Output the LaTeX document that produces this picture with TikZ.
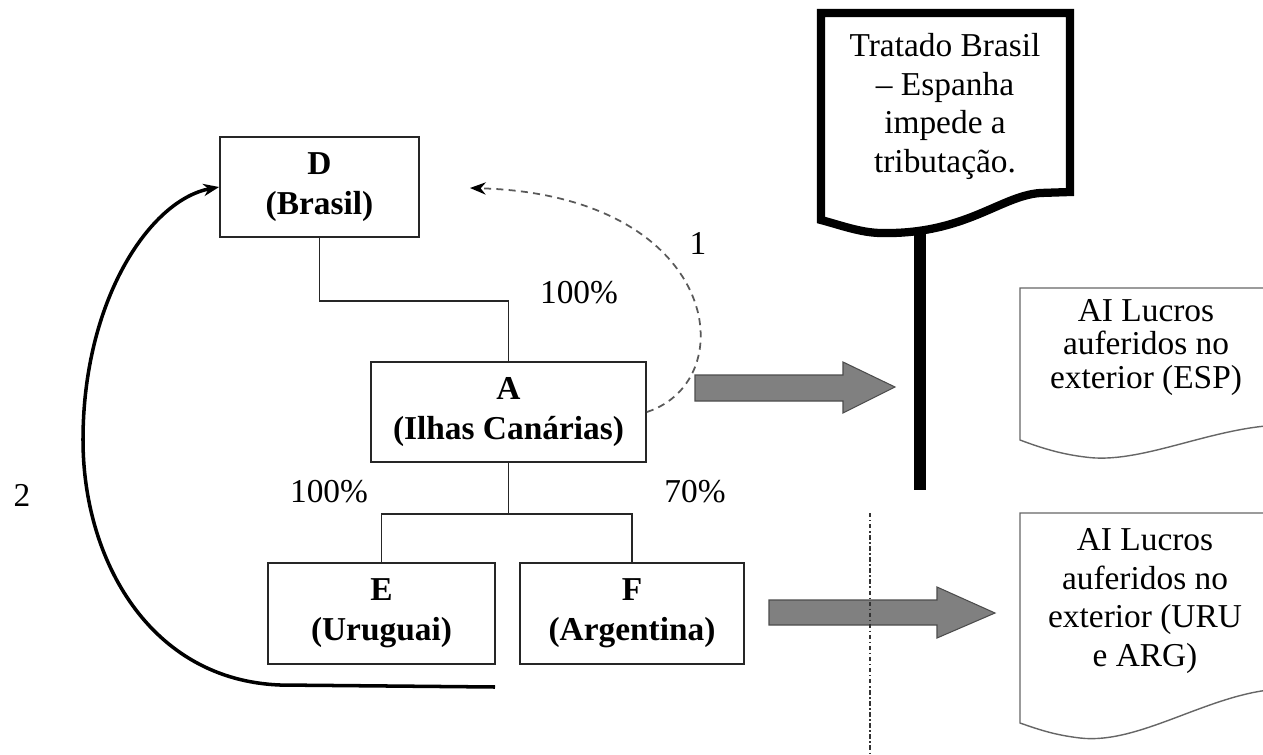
\documentclass[tikz,border=0pt]{standalone}
\usepackage{fontspec}
\setmainfont{Liberation Serif}
\usepackage{tikz}
\usetikzlibrary{arrows.meta}

\begin{document}
\begin{tikzpicture}[
  every node/.style={font=\fontsize{19}{22}\selectfont},
  caixa/.style={draw=black!85, line width=1pt, align=center, inner sep=0pt, font=\fontsize{19}{23}\selectfont\bfseries},
  ligacao/.style={draw=black!85, line width=1pt},
  setagrossa/.style={fill=black!50, draw=black!70, line width=0.6pt},
  documento/.style={draw=black!60, line width=0.8pt, fill=white}]

\useasboundingbox (0,0) rectangle (25.26,-15.1);
\clip (0,0) rectangle (25.26,-15.1);

\node[caixa, minimum width=3.98cm, minimum height=2cm] (D) at (6.39,-3.74) {D\\(Brasil)};
\node[caixa, minimum width=5.5cm, minimum height=2cm] (A) at (10.17,-8.24) {A\\(Ilhas Canárias)};
\node[caixa, minimum width=4.54cm, minimum height=2.02cm] (E) at (7.63,-12.27) {E\\(Uruguai)};
\node[caixa, minimum width=4.48cm, minimum height=2.02cm] (F) at (12.64,-12.27) {F\\(Argentina)};

\draw[ligacao] (D.south) -- ++(0,-1.26) -| (A.north);
\draw[ligacao] (A.south) -- ++(0,-1.02) coordinate (ramo) -| (E.north);
\draw[ligacao] (ramo) -| (F.north);

\node (pctA) at (11.58,-5.86) {100\%};
\node (pctE) at (6.58,-9.84) {100\%};
\node (pctF) at (13.9,-9.84) {70\%};
\node (um) at (13.96,-4.86) {1};
\node (dois) at (0.44,-9.9) {2};

% caminho 1
\coordinate (volta1) at (9.4,-3.76);
\draw[draw=black!65, line width=1pt, dash pattern=on 4pt off 3pt, -{Stealth[length=9pt,width=7pt,black]}] (A.east) .. controls (14.9,-7.6) and (14.4,-3.9) .. (volta1);

% caminho 2
\coordinate (base2) at (9.9,-13.74);
\draw[line width=2pt, -{Stealth[length=9pt,width=7pt]}] (base2) -- (5.6,-13.7) .. controls (3.0,-13.6) and (1.66,-11.2) .. (1.66,-8.8) .. controls (1.66,-6.0) and (3.0,-4.0) .. (D.west);

\draw[setagrossa] (13.9,-7.5) -- (16.86,-7.5) -- (16.86,-7.24) -- (17.9,-7.74) -- (16.86,-8.26) -- (16.86,-8.02) -- (13.9,-8.02) -- cycle;
\draw[setagrossa] (15.38,-12.0) -- (18.74,-12.0) -- (18.74,-11.74) -- (19.9,-12.26) -- (18.74,-12.76) -- (18.74,-12.5) -- (15.38,-12.5) -- cycle;

\draw[black!80, line width=0.9pt, dash pattern=on 2.5pt off 1.5pt on 0.8pt off 1.5pt] (17.4,-10.26) -- (17.4,-15.1);

% tratado
\draw[line width=4.7pt, fill=white] (16.42,-0.26) -- (21.4,-0.26) -- (21.4,-3.84) -- (20.8,-3.86) .. controls (20.0,-3.92) and (19.3,-4.7) .. (17.6,-4.66) .. controls (17.2,-4.65) and (16.8,-4.5) .. (16.42,-4.4) -- cycle;
\node[align=center] (tratado) at (18.9,-2.13) {Tratado Brasil\\– Espanha\\impede a\\tributação.};
\coordinate (postetopo) at (18.4,-4.6);
\coordinate (postebase) at (18.4,-9.8);
\draw[line width=6.3pt] (postetopo) -- (postebase);

\draw[documento] (20.4,-5.76) -- (25.6,-5.76) -- (25.6,-8.5) .. controls (24.2,-8.55) and (22.8,-9.3) .. (21.7,-9.14) .. controls (21.2,-9.08) and (20.8,-8.95) .. (20.4,-8.8) -- cycle;
\node[align=center, font=\fontsize{19}{19}\selectfont] (esp) at (22.92,-6.95) {AI Lucros\\auferidos no\\exterior (ESP)};

\draw[documento] (20.4,-10.26) -- (25.6,-10.26) -- (25.6,-13.78) .. controls (24.2,-13.85) and (22.8,-14.9) .. (21.6,-14.76) .. controls (21.1,-14.7) and (20.8,-14.6) .. (20.4,-14.46) -- cycle;
\node[align=center] (uruarg) at (22.9,-12.02) {AI Lucros\\auferidos no\\exterior (URU\\e ARG)};
\end{tikzpicture}
\end{document}
